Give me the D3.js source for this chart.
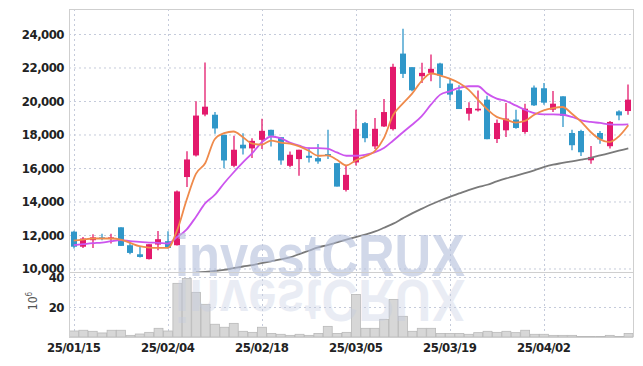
<!DOCTYPE html>
<html><head><meta charset="utf-8">
<script src="https://cdn.jsdelivr.net/npm/d3@7"></script>
<style>
html,body{margin:0;padding:0;background:#fff;}
svg{display:block;}
.tick text, .lbl{font-family:"DejaVu Sans Condensed","DejaVu Sans",sans-serif;font-weight:bold;}
</style></head>
<body><svg id="c" width="643" height="366"></svg>
<script>
const dates = ["25/01/15","25/01/16","25/01/17","25/01/20","25/01/21","25/01/22","25/01/23","25/01/24","25/01/31",
"25/02/03","25/02/04","25/02/05","25/02/06","25/02/07","25/02/10","25/02/11","25/02/12","25/02/13","25/02/14",
"25/02/17","25/02/18","25/02/19","25/02/20","25/02/21","25/02/24","25/02/25","25/02/26","25/02/27","25/02/28",
"25/03/04","25/03/05","25/03/06","25/03/07","25/03/10","25/03/11","25/03/12","25/03/13","25/03/14","25/03/17",
"25/03/18","25/03/19","25/03/20","25/03/21","25/03/24","25/03/25","25/03/26","25/03/27","25/03/28","25/03/31",
"25/04/01","25/04/02","25/04/03","25/04/04","25/04/07","25/04/08","25/04/09","25/04/10","25/04/11","25/04/14","25/04/15"];
const open  = [12200,11300,11690,11860,11770,12460,11390,10850,10560,11430,11630,11390,15460,16750,19190,19180,17980,16130,17390,17170,17680,18280,17840,16130,16530,16730,16590,16830,16290,14690,16330,18680,17290,18480,18320,22830,22020,21480,21680,22240,21040,20640,19240,19440,20080,17730,18250,18890,18150,20800,20760,19480,20280,18090,18210,16460,18090,17300,19380,19400];
const high  = [12250,11880,12040,12080,12080,12460,11530,11290,11450,12240,12220,14660,17000,19980,22300,19340,17980,17920,18080,17780,18940,18280,17840,16990,17090,17230,17430,18280,16290,16150,19480,18740,18980,20120,22220,24310,22020,22280,22770,22280,21320,20940,19920,20620,20320,18890,19880,19480,19840,20930,21070,20600,20280,18290,18290,17320,18210,18810,19440,20990];
const low   = [11200,11230,11230,11690,11490,11350,10850,10650,10540,11090,11190,11370,14860,16690,19090,18040,15990,16050,16810,16590,17130,17290,16190,16050,15530,16330,16250,16530,14890,14590,16150,17540,17130,18440,18240,21380,20580,21080,21180,20780,20040,19520,18840,19380,17720,17490,17850,18350,18050,19700,19780,19340,18450,17060,16720,16260,17450,17160,18850,19180];
const close = [11300,11790,11860,11770,11860,11350,10930,10690,11450,11750,11230,14600,16510,19130,19660,18360,16450,17090,17170,17620,18220,17920,16450,16790,17090,16610,16390,16730,14890,15590,18340,17780,18340,19340,22040,21620,20640,21680,21920,21520,20380,19520,19580,19540,17720,18690,18950,18390,19540,19740,19900,19840,19110,17360,16940,16660,17710,18750,19140,20080];
const volume = [4,4.5,3.8,2.7,4.5,4.5,1.1,2,3.1,5.8,4,35.8,39.1,29.8,21.8,8.5,6.5,9.1,3.8,3.1,6.5,2.4,1.8,1.1,1.8,1.1,2.4,7.1,2.4,3.1,28.4,5.8,5.8,11.8,25.1,13.8,3.8,5.8,5.8,2.4,2.4,2.4,1.8,2.9,3.8,3.1,3.8,2.9,4.5,1.8,1.8,1.1,1.1,1.1,0.4,0.4,0.4,1.1,0.4,2.4];
const ma5 = [11670,11730,11790,11790,11790,11730,11530,11330,11250,11230,11230,12280,14070,15650,16300,17720,18080,18180,17840,17450,17390,17640,17520,17450,17290,17030,16730,16750,16490,16150,16450,16690,16990,17780,19180,19840,20440,21180,21640,21520,21340,21080,20680,20080,19500,19050,18890,18710,18810,19180,19440,19580,19640,19240,18750,18150,17710,17550,17890,18550];
const ma20 = [11390,11450,11510,11550,11630,11690,11630,11590,11550,11530,11490,11880,12320,13080,13900,14390,15090,15730,16330,16890,17520,17880,17780,17520,17330,17190,17190,17150,16930,16730,16730,16790,16930,17190,17640,18120,18580,19080,19780,20380,20580,20780,20880,20880,20440,20140,20000,19740,19480,19280,19200,19200,19180,19050,18850,18750,18690,18610,18590,18610];
const ma60 = [null,null,null,null,null,null,null,null,null,null,null,null,null,9760,9800,9850,9920,10020,10120,10200,10320,10430,10540,10670,10860,11060,11260,11400,11560,11720,11870,12030,12200,12430,12680,12990,13290,13560,13820,14060,14280,14480,14680,14860,15000,15200,15380,15530,15690,15860,16050,16200,16300,16400,16500,16610,16750,16890,17030,17170];
const priceTicks = [10000,12000,14000,16000,18000,20000,22000,24000];
const volTicks = [20,40];
const dateTickIdx = [0,10,20,30,40,50];

const svg = d3.select("#c");
const L=69, R=633, T=9, MB=272, VT=273, VB=337;
const x = d3.scaleBand().domain(dates).range([L,R]).padding(0);
const cx = d => x(d)+x.bandwidth()/2;
const y = d3.scaleLinear().domain([9791,25492]).range([MB,T]);
const yv = d3.scaleLinear().domain([0,42.7]).range([VB,VT]);
const gridC="#c5cbdb";

// grid
const g = svg.append("g");
g.selectAll(".hg").data(priceTicks).join("line")
 .attr("x1",L).attr("x2",R).attr("y1",d=>y(d)+0.5).attr("y2",d=>y(d)+0.5)
 .attr("stroke",gridC).attr("stroke-dasharray","2,3");
g.selectAll(".vg").data(volTicks).join("line")
 .attr("x1",L).attr("x2",R).attr("y1",d=>Math.round(yv(d))+0.5).attr("y2",d=>Math.round(yv(d))+0.5)
 .attr("stroke",gridC).attr("stroke-dasharray","2,3");
g.selectAll(".xg").data(dateTickIdx).join("line")
 .attr("x1",i=>Math.round(cx(dates[i]))+0.5).attr("x2",i=>Math.round(cx(dates[i]))+0.5)
 .attr("y1",T).attr("y2",VB).attr("stroke",gridC).attr("stroke-dasharray","2,3");

// volume bars
svg.append("g").selectAll("rect").data(dates).join("rect")
 .attr("x",d=>x(d)+0.5).attr("width",x.bandwidth()-0.5)
 .attr("y",(d,i)=>yv(volume[i])).attr("height",(d,i)=>VB-yv(volume[i]))
 .attr("fill","#d7d7d7").attr("stroke","#b9b9b9").attr("stroke-width",0.8);

// clip main
svg.append("clipPath").attr("id","mc").append("rect").attr("x",L).attr("y",T).attr("width",R-L).attr("height",MB-T);
const mg = svg.append("g").attr("clip-path","url(#mc)");

// candles
const up="#e3196c", dn="#3097c9";
const cg = mg.append("g");
dates.forEach((d,i)=>{
  const c = close[i]>=open[i]?up:dn;
  const xc = Math.round(cx(d));
  cg.append("line").attr("x1",xc).attr("x2",xc).attr("y1",y(high[i])).attr("y2",y(low[i]))
    .attr("stroke",c).attr("stroke-width",1.3);
  const top=y(Math.max(open[i],close[i])), bot=y(Math.min(open[i],close[i]));
  cg.append("rect").attr("x",xc-3).attr("width",6).attr("y",top).attr("height",Math.max(1.5,bot-top))
    .attr("fill",c);
});

// MA lines
const mk = arr => d3.line().defined(v=>v!=null).x((v,i)=>cx(dates[i])).y(v=>y(v)).curve(d3.curveMonotoneX)(arr);
mg.append("path").attr("d",mk(ma60)).attr("fill","none").attr("stroke","#7a7a7a").attr("stroke-width",1.8);
mg.append("path").attr("d",mk(ma20)).attr("fill","none").attr("stroke","#cc55ee").attr("stroke-width",1.8);
mg.append("path").attr("d",mk(ma5)).attr("fill","none").attr("stroke","#ef8a4b").attr("stroke-width",1.8);

// watermark
svg.append("text").attr("x",175).attr("y",276).attr("textLength",290).attr("lengthAdjust","spacingAndGlyphs")
 .attr("font-family","Liberation Sans, Arial, sans-serif").attr("font-weight","bold").attr("font-size",60)
 .attr("fill","#b4bfdc").attr("opacity",0.6).text("investCRUX");
svg.append("clipPath").attr("id","vc").append("rect").attr("x",L).attr("y",VT).attr("width",R-L).attr("height",VB-VT);
svg.append("g").attr("clip-path","url(#vc)").append("text")
 .attr("transform","translate(0,556) scale(1,-1)")
 .attr("x",175).attr("y",276).attr("textLength",290).attr("lengthAdjust","spacingAndGlyphs")
 .attr("font-family","Liberation Sans, Arial, sans-serif").attr("font-weight","bold").attr("font-size",60)
 .attr("fill","#c3cbe2").attr("opacity",0.35).text("investCRUX");

// frame
const fr = svg.append("g").attr("stroke","#cfcfcf").attr("fill","none");
fr.append("line").attr("x1",L+0.5).attr("x2",L+0.5).attr("y1",T).attr("y2",VB);
fr.append("line").attr("x1",R+0.5).attr("x2",R+0.5).attr("y1",T).attr("y2",VB);
fr.append("line").attr("x1",L).attr("x2",R).attr("y1",T+0.5).attr("y2",T+0.5);
fr.append("line").attr("x1",L).attr("x2",R).attr("y1",MB+0.5).attr("y2",MB+0.5);
fr.append("line").attr("x1",L).attr("x2",R).attr("y1",VB+0.5).attr("y2",VB+0.5);

// axes
const ya = svg.append("g").attr("transform",`translate(${L},0)`)
 .call(d3.axisLeft(y).tickValues(priceTicks).tickFormat(d3.format(",")).tickSize(0).tickPadding(5));
const yva = svg.append("g").attr("transform",`translate(${L},0)`)
 .call(d3.axisLeft(yv).tickValues(volTicks).tickSize(0).tickPadding(5));
const xa = svg.append("g").attr("transform",`translate(0,${VB})`)
 .call(d3.axisBottom(x).tickValues(dateTickIdx.map(i=>dates[i])).tickSize(0).tickPadding(6));
[ya,yva,xa].forEach(a=>{a.select(".domain").remove();
  a.selectAll("text").attr("fill","#222").attr("font-size",13).style("letter-spacing","-0.5px");});
svg.append("text").attr("class","lbl").attr("transform","translate(37,301) rotate(-90)")
 .attr("text-anchor","middle").attr("font-size",12).attr("font-weight","normal").attr("fill","#555")
 .style("font-weight","normal")
 .html('10<tspan dy="-5" font-size="8">6</tspan>');
</script></body></html>
